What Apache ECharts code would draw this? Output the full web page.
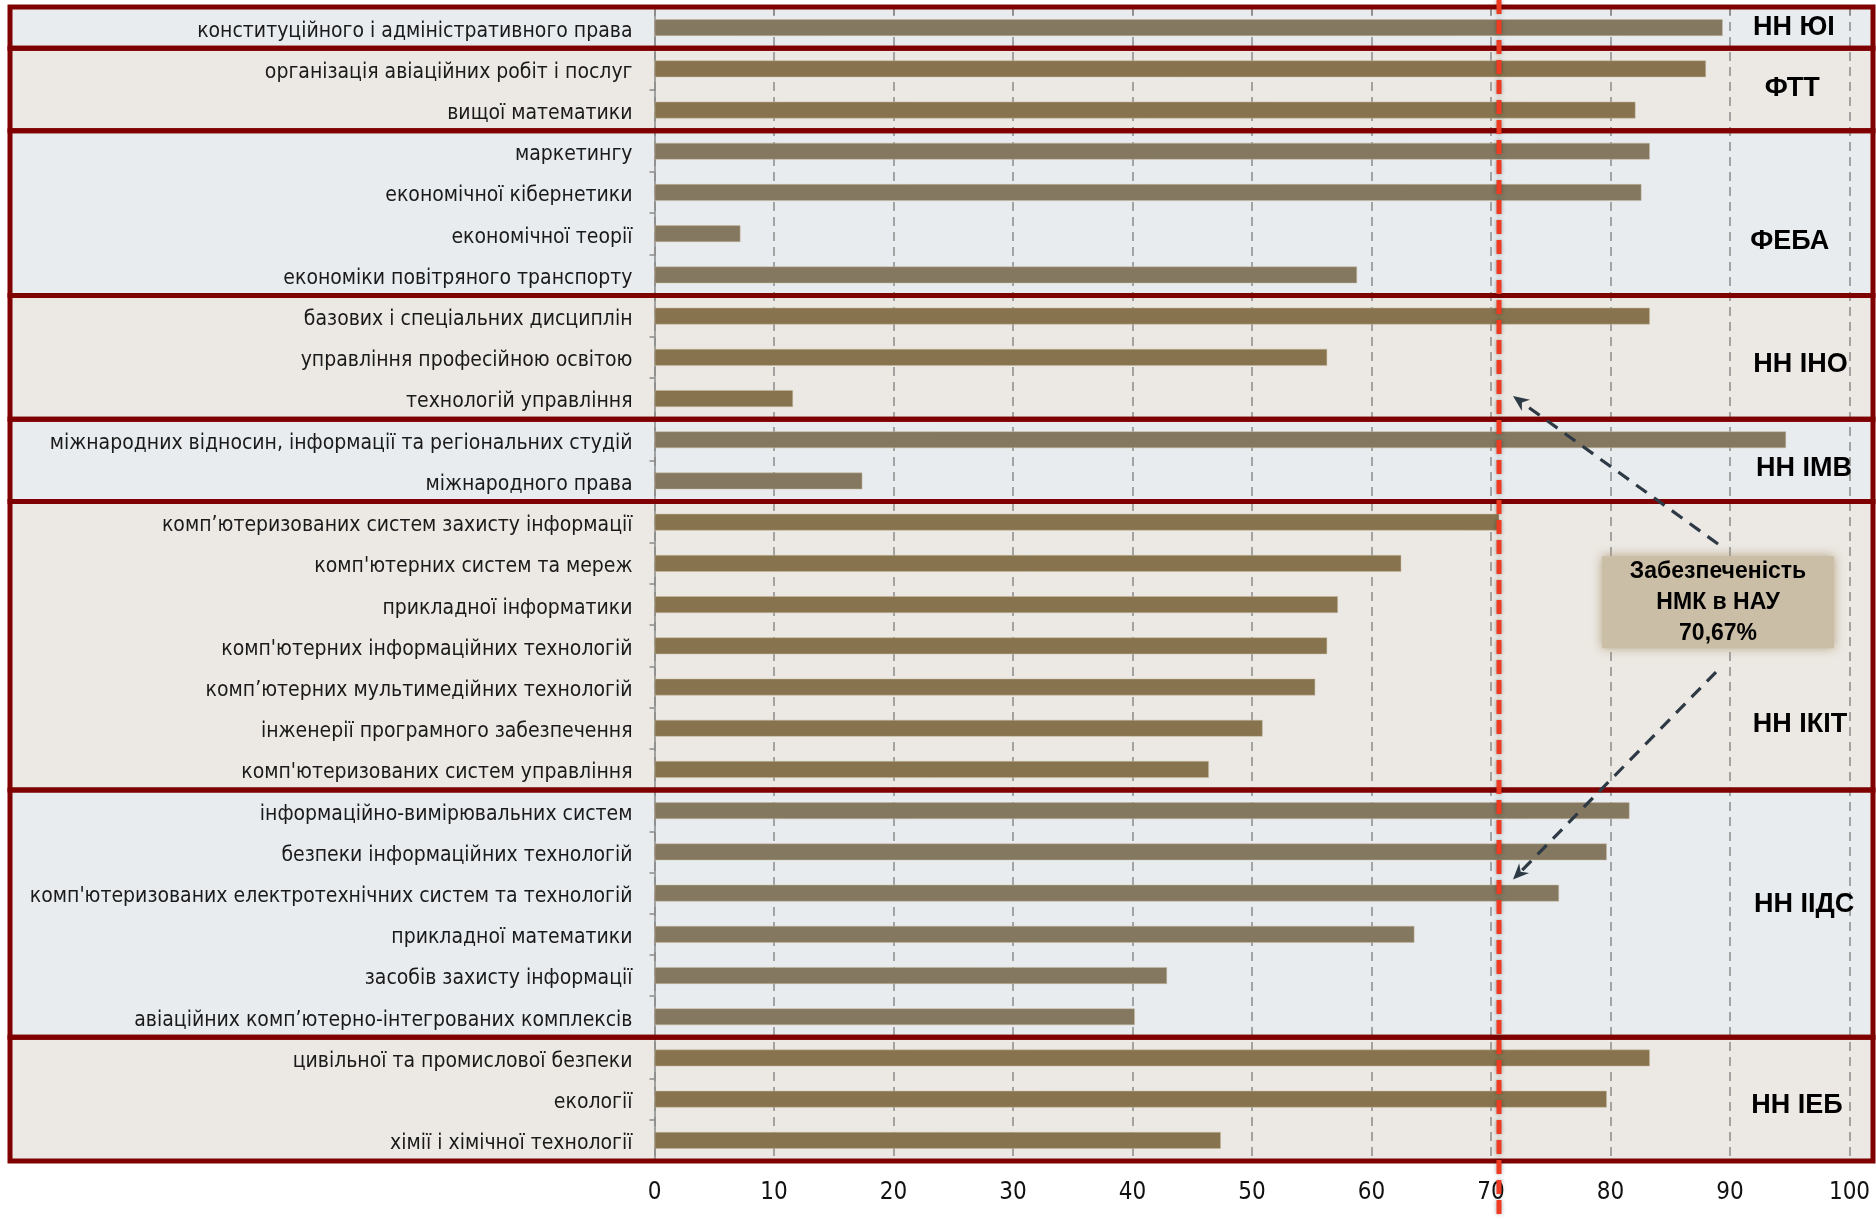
<!DOCTYPE html>
<html><head><meta charset="utf-8">
<script src="https://cdn.jsdelivr.net/npm/echarts@6/dist/echarts.min.js"></script>
<style>html,body{margin:0;padding:0;background:#fff}#c{width:1876px;height:1220px}</style>
</head><body><div id="c"></div>
<script>
// ---- data ----
const categories = [
  'конституційного і адміністративного права',
  'організація авіаційних робіт і послуг',
  'вищої математики',
  'маркетингу',
  'економічної кібернетики',
  'економічної теорії',
  'економіки повітряного транспорту',
  'базових і спеціальних дисциплін',
  'управління професійною освітою',
  'технологій управління',
  'міжнародних відносин, інформації та регіональних студій',
  'міжнародного права',
  'комп’ютеризованих систем захисту інформації',
  "комп'ютерних систем та мереж",
  'прикладної інформатики',
  "комп'ютерних інформаційних технологій",
  'комп’ютерних мультимедійних технологій',
  'інженерії програмного забезпечення',
  "комп'ютеризованих систем управління",
  'інформаційно-вимірювальних систем',
  'безпеки інформаційних технологій',
  "комп'ютеризованих електротехнічних систем та технологій",
  'прикладної математики',
  'засобів захисту інформації',
  'авіаційних комп’ютерно-інтегрованих комплексів',
  'цивільної та промислової безпеки',
  'екології',
  'хімії і хімічної технології'
];
const values = [89.4, 88.0, 82.1, 83.3, 82.6, 7.2, 58.8, 83.3, 56.3, 11.6, 94.7, 17.4,
  70.7, 62.5, 57.2, 56.3, 55.3, 50.9, 46.4, 81.6, 79.7, 75.7, 63.6, 42.9, 40.2, 83.3, 79.7, 47.4];
const groupNames = ['НН ЮІ', 'ФТТ', 'ФЕБА', 'НН ІНО', 'НН ІМВ', 'НН ІКІТ', 'НН ІІДС', 'НН ІЕБ'];
const groupSizes = [1, 2, 4, 3, 2, 7, 6, 3];
const groupLabelX = [95.35, 95.2, 95.0, 95.9, 96.2, 95.85, 96.2, 95.6];
const groupLabelY = [0.49, 1.97, 5.68, 8.67, 11.21, 17.4, 21.77, 26.65];
const xTicks = [0, 10, 20, 30, 40, 50, 60, 70, 80, 90, 100];
const averageValue = 70.67;
const noteLines = ['Забезпеченість', 'НМК в НАУ', '70,67%'];
const notePos = [89.0, 14.44];
const arrows = [[89.0, 13.03, 71.84, 9.44], [88.83, 16.14, 71.84, 21.17]];

// ---- derived ----
const groupStarts = [];
let acc = 0;
groupSizes.forEach(s => { groupStarts.push(acc); acc += s; });
const groupOf = [];
groupSizes.forEach((s, g) => { for (let k = 0; k < s; k++) groupOf.push(g); });
const nCat = categories.length;

const BG = ['#e8ecef', '#ece9e4'];
const BAR = ['#857860', '#87744f'];
const FONT = "'Liberation Sans Narrow','DejaVu Sans Condensed','Liberation Sans',sans-serif";
const BFONT = "'Liberation Sans','DejaVu Sans',sans-serif";

const chart = echarts.init(document.getElementById('c'), null, {renderer: 'canvas'});

const option = {
  backgroundColor: '#ffffff',
  animation: false,
  grid: {left: 654.5, right: 26.5, top: 7, bottom: 59, containLabel: false, outerBoundsMode: 'none'},
  xAxis: {
    type: 'value', min: xTicks[0], max: xTicks[xTicks.length - 1], interval: xTicks[1] - xTicks[0],
    axisLine: {show: false},
    axisTick: {show: true, length: 8, lineStyle: {color: '#8a8a8a', width: 1.5}},
    axisLabel: {fontSize: 24, color: '#111', fontFamily: FONT, margin: 20},
    splitLine: {show: true, lineStyle: {color: '#8a8a8a', width: 1.5, type: [9, 6]}}
  },
  yAxis: [{
    type: 'category', data: categories, inverse: true,
    axisLine: {show: true, lineStyle: {color: '#8a8a8a', width: 1.5}},
    axisTick: {show: true, length: 5, lineStyle: {color: '#8a8a8a', width: 1.5}},
    axisLabel: {
      margin: 22,
      formatter: v => '{a|' + v + '}',
      rich: {a: {fontSize: 21, color: '#1a1a1a', fontFamily: FONT, padding: [7, 0, 0, 0]}}
    },
    splitLine: {show: false}
  }, {
    type: 'value', min: 0, max: nCat, inverse: true, show: false
  }],
  series: [
    { // group backgrounds
      type: 'custom', xAxisIndex: 0, yAxisIndex: 1, z: -1, silent: true, clip: false,
      data: groupSizes.map((s, i) => [0, groupStarts[i], groupStarts[i] + s]),
      renderItem(params, api) {
        const y0 = api.coord([0, api.value(1)])[1];
        const y1 = api.coord([0, api.value(2)])[1];
        const W = api.getWidth();
        return {type: 'rect', shape: {x: 9, y: y0, width: W - 12, height: y1 - y0},
          style: {fill: BG[params.dataIndex % 2]}};
      }
    },
    {
      type: 'bar', xAxisIndex: 0, yAxisIndex: 0, barWidth: 17, z: 2,
      data: values,
      itemStyle: {
        color: p => BAR[groupOf[p.dataIndex] % 2],
        borderColor: 'rgba(200,185,160,0.6)', borderWidth: 0.8
      }
    },
    { // group borders
      type: 'custom', xAxisIndex: 0, yAxisIndex: 1, z: 3, silent: true, clip: false,
      data: groupSizes.map((s, i) => [0, groupStarts[i], groupStarts[i] + s]),
      renderItem(params, api) {
        const y0 = api.coord([0, api.value(1)])[1];
        const y1 = api.coord([0, api.value(2)])[1];
        const W = api.getWidth();
        return {type: 'rect', shape: {x: 10, y: y0, width: W - 13, height: y1 - y0},
          style: {fill: 'none', stroke: '#7f0000', lineWidth: 5}};
      }
    },
    { // group labels
      type: 'custom', xAxisIndex: 0, yAxisIndex: 1, z: 4, silent: true, clip: false,
      data: groupNames.map((n, i) => [groupLabelX[i], groupLabelY[i]]),
      renderItem(params, api) {
        const p = api.coord([api.value(0), api.value(1)]);
        return {type: 'text', x: p[0], y: p[1],
          style: {text: groupNames[params.dataIndex], fill: '#000', fontSize: 27, fontWeight: 'bold',
            fontFamily: BFONT, align: 'center', verticalAlign: 'middle'}};
      }
    },
    { // average line
      type: 'custom', xAxisIndex: 0, yAxisIndex: 1, z: 5, silent: true, clip: false,
      data: [[averageValue, 0]],
      renderItem(params, api) {
        const x = api.coord([api.value(0), 0])[0];
        const H = api.getHeight();
        return {type: 'line', shape: {x1: x, y1: 0, x2: x, y2: H},
          style: {stroke: '#ee3b22', lineWidth: 5, lineDash: [14, 6],
            shadowBlur: 4, shadowColor: 'rgba(0,0,0,0.35)'}};
      }
    },
    { // annotation
      type: 'custom', xAxisIndex: 0, yAxisIndex: 1, z: 6, silent: true, clip: false,
      data: [notePos],
      renderItem(params, api) {
        const c = api.coord([api.value(0), api.value(1)]);
        const children = [];
        children.push({type: 'rect', shape: {x: c[0] - 116, y: c[1] - 46, width: 232, height: 92},
          style: {fill: '#cbbea7', shadowBlur: 10, shadowColor: 'rgba(175,155,120,0.9)'}});
        children.push({type: 'text', x: c[0], y: c[1] + 1,
          style: {text: noteLines.join('\n'), fill: '#000', fontSize: 23, fontWeight: 'bold',
            fontFamily: BFONT, align: 'center', verticalAlign: 'middle', lineHeight: 31}});
        arrows.forEach(a => {
          const s = api.coord([a[0], a[1]]);
          const e = api.coord([a[2], a[3]]);
          const dx = e[0] - s[0], dy = e[1] - s[1];
          const L = Math.sqrt(dx * dx + dy * dy);
          const ux = dx / L, uy = dy / L, px = -uy, py = ux;
          children.push({type: 'line', shape: {x1: s[0], y1: s[1], x2: e[0] - ux * 10, y2: e[1] - uy * 10},
            style: {stroke: '#2d3945', lineWidth: 3.2, lineDash: [13, 9]}});
          children.push({type: 'polygon', shape: {points: [
              [e[0], e[1]],
              [e[0] - ux * 16 + px * 7, e[1] - uy * 16 + py * 7],
              [e[0] - ux * 11, e[1] - uy * 11],
              [e[0] - ux * 16 - px * 7, e[1] - uy * 16 - py * 7]
            ]}, style: {fill: '#2d3945'}});
        });
        return {type: 'group', children};
      }
    }
  ]
};
chart.setOption(option);
</script>
</body></html>
